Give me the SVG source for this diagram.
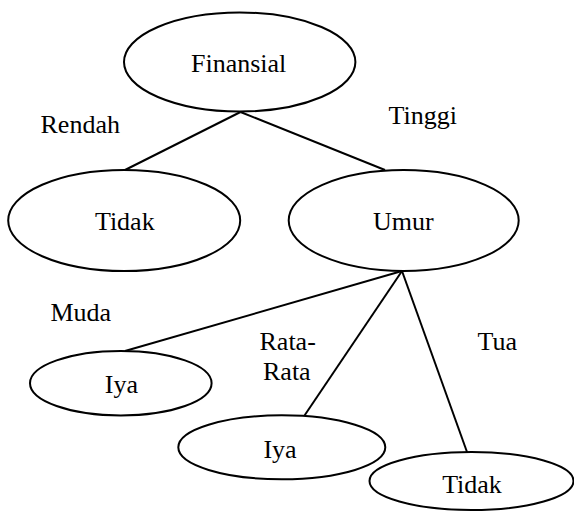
<svg xmlns="http://www.w3.org/2000/svg" width="574" height="511" viewBox="0 0 574 511">
<style>
.n ellipse{fill:#fff;stroke:#000;stroke-width:2}
text{font-family:"Liberation Serif","Times New Roman",serif;font-size:26px;fill:#000}
.c{text-anchor:middle}
#connectors line{stroke:#000;stroke-width:2}
</style>
<rect width="574" height="511" fill="#fff"/>
<g id="connectors">
<line x1="240.5" y1="112" x2="125" y2="170"/>
<line x1="240.5" y1="112" x2="385" y2="170"/>
<line x1="402" y1="271" x2="125" y2="351"/>
<line x1="402" y1="271" x2="304.5" y2="415.5"/>
<line x1="402" y1="271" x2="467" y2="452"/>
</g>
<g id="labels">
<text x="40.5" y="132.5">Rendah</text>
<text x="388.5" y="123.5">Tinggi</text>
<text x="50.5" y="321">Muda</text>
<text x="259.5" y="349.5">Rata-</text>
<text x="263" y="380">Rata</text>
<text x="477.5" y="350">Tua</text>
</g>
<g id="finansial" class="n"><ellipse cx="239.7" cy="62" rx="115.7" ry="49.5"/><text class="c" x="238.7" y="72.3">Finansial</text></g>
<g id="tidak1" class="n"><ellipse cx="124.2" cy="220.5" rx="116" ry="50.5"/><text class="c" x="124.8" y="230">Tidak</text></g>
<g id="umur" class="n"><ellipse cx="403.7" cy="220.5" rx="115" ry="50.5"/><text class="c" x="403.3" y="230">Umur</text></g>
<g id="iya1" class="n"><ellipse cx="120.8" cy="383.2" rx="90.8" ry="32.2"/><text class="c" x="121.4" y="392.7">Iya</text></g>
<g id="iya2" class="n"><ellipse cx="281.8" cy="447.3" rx="103.5" ry="32"/><text class="c" x="280" y="457.7">Iya</text></g>
<g id="tidak2" class="n"><ellipse cx="471.5" cy="481" rx="102" ry="29"/><text class="c" x="472" y="492.7">Tidak</text></g>
</svg>
